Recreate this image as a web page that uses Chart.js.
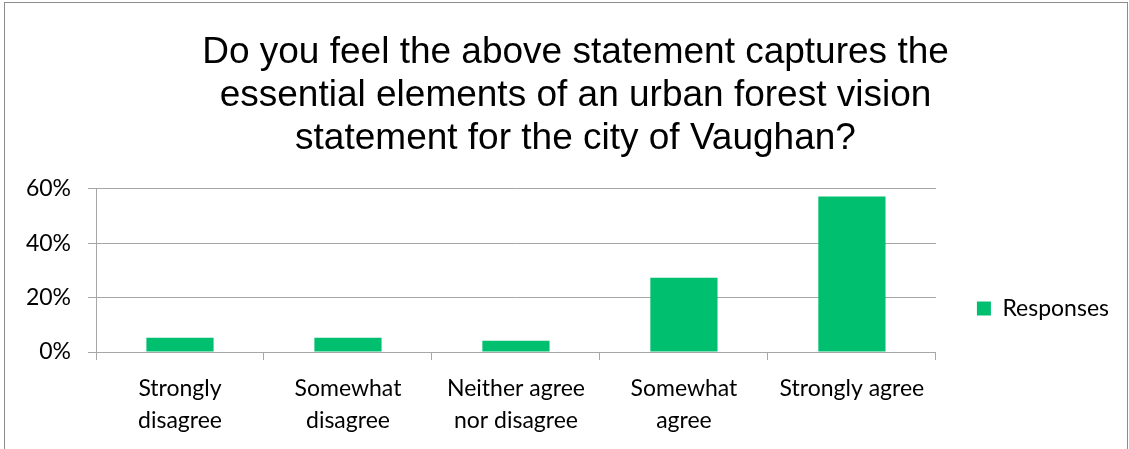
<!DOCTYPE html>
<html>
<head>
<meta charset="utf-8">
<script src="https://cdn.jsdelivr.net/npm/chart.js@4"></script>
<style>
  html, body { margin: 0; padding: 0; background: #fff; }
  #frame {
    position: absolute; left: 4px; top: 2px; width: 1124px; height: 452px;
    border: 1px solid #8c8c8c; box-sizing: border-box; background: #fff;
  }
  #wrap { position: absolute; left: 0; top: 0; width: 1122px; height: 450px; }
</style>
</head>
<body>
<div id="frame"><div id="wrap"><canvas id="bar-chart"></canvas></div></div>
<script>
const categories = [
  ['Strongly', 'disagree'],
  ['Somewhat', 'disagree'],
  ['Neither agree', 'nor disagree'],
  ['Somewhat', 'agree'],
  'Strongly agree'
];
const responses = [5.3, 5.3, 4.2, 27.3, 57.2];
const yTicks = [0, 20, 40, 60];
const titleLines = [
  'Do you feel the above statement captures the',
  'essential elements of an urban forest vision',
  'statement for the city of Vaughan?'
];

const green = '#00bf6f';
const gridColor = '#a6a6a6';
const labelFont = { family: 'Lato, "Open Sans", sans-serif', size: 23 };

// Excel puts the legend lower down, next to the plot, and the title a bit right; nudge them
const boxNudge = {
  id: 'boxNudge',
  afterLayout(chart) {
    const lg = chart.legend;
    if (lg) {
      lg.left += 33; lg.right += 33;
      lg.top += 82; lg.bottom += 82;
    }
    const tt = chart.titleBlock;
    if (tt) {
      tt.left += 20; tt.right += 20;
    }
  },
};

const ctx = document.getElementById('bar-chart');
new Chart(ctx, {
  type: 'bar',
  data: {
    labels: categories,
    datasets: [
      {
        label: 'Responses',
        data: responses,
        backgroundColor: green,
        borderWidth: 0,
        barPercentage: 0.4,
        categoryPercentage: 1.0,
      },
    ],
  },
  plugins: [boxNudge],
  options: {
    responsive: true,
    maintainAspectRatio: false,
    animation: false,
    layout: {
      padding: { left: 20, right: 41, top: 0, bottom: 3 },
    },
    plugins: {
      title: {
        display: true,
        text: titleLines,
        color: '#000',
        font: { family: '"Liberation Sans", Arial, sans-serif', size: 37, weight: 'normal', lineHeight: 1.17 },
        padding: { top: 28, bottom: 28 },
      },
      legend: {
        display: true,
        position: 'right',
        labels: {
          color: '#000',
          font: labelFont,
          boxWidth: 14,
          boxHeight: 14,
          padding: 8,
        },
      },
      tooltip: { enabled: false },
    },
    scales: {
      x: {
        grid: {
          offset: true,
          drawOnChartArea: false,
          drawTicks: true,
          tickLength: 8,
          color: gridColor,
        },
        border: { color: gridColor, width: 1 },
        ticks: {
          color: '#000',
          font: { ...labelFont, lineHeight: 1.39 },
          padding: 13,
          maxRotation: 0,
          autoSkip: false,
        },
      },
      y: {
        min: 0,
        max: 60,
        afterBuildTicks: (scale) => {
          scale.ticks = yTicks.map(v => ({ value: v }));
        },
        afterFit: (scale) => {
          scale.width = 71;
        },
        grid: {
          color: gridColor,
          tickLength: 8,
        },
        border: { color: gridColor, width: 1 },
        ticks: {
          color: '#000',
          font: labelFont,
          padding: 17,
          callback: (v) => v + '%',
        },
      },
    },
  },
});
</script>
</body>
</html>
